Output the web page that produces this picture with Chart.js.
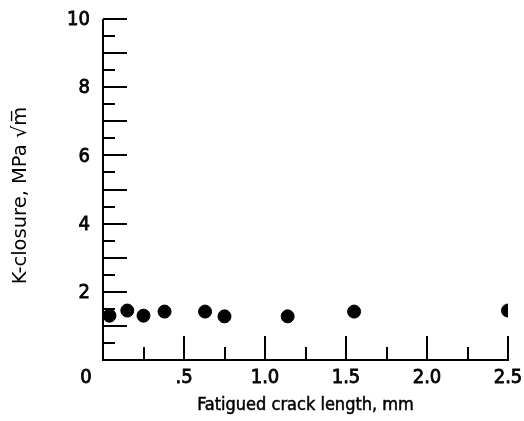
<!DOCTYPE html>
<html>
<head>
<meta charset="utf-8">
<script src="https://cdn.jsdelivr.net/npm/chart.js@4.4.1/dist/chart.umd.min.js"></script>
<style>
  html, body { margin: 0; padding: 0; background: #fff; }
  #wrap { width: 524px; height: 421px; }
</style>
</head>
<body>
<div id="wrap"><canvas id="kChart" width="524" height="421"></canvas></div>
<script>
// data
const crackLength = [0.04, 0.15, 0.25, 0.38, 0.63, 0.75, 1.14, 1.55, 2.5];
const kClosure = [1.30, 1.45, 1.30, 1.42, 1.42, 1.28, 1.28, 1.42, 1.45];

const xTickValues = [0, 0.5, 1.0, 1.5, 2.0, 2.5];
const xTickLabels = ['0', '.5', '1.0', '1.5', '2.0', '2.5'];
const yTickValues = [2, 4, 6, 8, 10];
const yTickLabels = ['2', '4', '6', '8', '10'];

const labelFont = '20px "DejaVu Sans Condensed", sans-serif';
const xTitleFont = '18px "DejaVu Sans Condensed", sans-serif';
const yTitleFont = '19.5px "DejaVu Sans", sans-serif';

// slightly heavier text, like the printed figure
function heavyText(ctx, s, x, y, w) {
    ctx.lineWidth = w;
    ctx.strokeText(s, x, y);
    ctx.fillText(s, x, y);
}

// axes, inward ticks and labels drawn off the chart's own scales
const axesPlugin = {
    id: 'paperAxes',
    afterDraw(chart) {
        const { ctx, chartArea: a, scales: { x, y } } = chart;
        ctx.save();
        ctx.strokeStyle = '#000';
        ctx.fillStyle = '#000';
        ctx.lineWidth = 2;

        ctx.beginPath();
        ctx.moveTo(a.left, a.top);
        ctx.lineTo(a.left, a.bottom);
        ctx.lineTo(a.right + 1, a.bottom);
        ctx.stroke();

        // y ticks every 0.5, long at whole numbers
        for (let v = 0.5; v <= 10; v += 0.5) {
            const py = Math.round(y.getPixelForValue(v));
            const len = Number.isInteger(v) ? 24 : 12;
            ctx.beginPath();
            ctx.moveTo(a.left, py);
            ctx.lineTo(a.left + len, py);
            ctx.stroke();
        }
        // x ticks every 0.25, long at every 0.5
        for (let v = 0.25; v <= 2.5; v += 0.25) {
            const px = Math.round(x.getPixelForValue(v));
            const len = (v * 2) % 1 === 0 ? 24 : 13;
            ctx.beginPath();
            ctx.moveTo(px, a.bottom);
            ctx.lineTo(px, a.bottom - len);
            ctx.stroke();
        }

        ctx.font = labelFont;
        ctx.textBaseline = 'middle';
        ctx.textAlign = 'right';
        yTickValues.forEach((v, i) => {
            heavyText(ctx, yTickLabels[i], a.left - 13, y.getPixelForValue(v) + 1, 0.8);
        });
        ctx.textAlign = 'center';
        xTickValues.forEach((v, i) => {
            let px = x.getPixelForValue(v);
            if (v === 0) px -= 17;
            heavyText(ctx, xTickLabels[i], px, a.bottom + 18, 0.8);
        });

        ctx.font = xTitleFont;
        heavyText(ctx, 'Fatigued crack length, mm', (a.left + a.right) / 2, a.bottom + 45, 0.5);
        ctx.font = yTitleFont;
        ctx.save();
        ctx.translate(21, (a.top + a.bottom) / 2 + 6);
        ctx.rotate(-Math.PI / 2);
        ctx.fillText('K-closure, MPa \u221Am\u0305', 0, 0);
        ctx.restore();
        ctx.restore();
    }
};

new Chart(document.getElementById('kChart'), {
    type: 'scatter',
    data: {
        datasets: [{
            label: 'K-closure',
            data: crackLength.map((c, i) => ({ x: c, y: kClosure[i] })),
            backgroundColor: '#000',
            borderColor: '#000',
            pointRadius: 6.5,
            pointHoverRadius: 6.5
        }]
    },
    options: {
        responsive: false,
        animation: false,
        layout: { padding: { left: 103, right: 16, top: 19, bottom: 61 } },
        plugins: { legend: { display: false }, tooltip: { enabled: false } },
        scales: {
            x: { type: 'linear', min: 0, max: 2.5, display: false },
            y: { type: 'linear', min: 0, max: 10, display: false }
        }
    },
    plugins: [axesPlugin]
});
</script>
</body>
</html>
